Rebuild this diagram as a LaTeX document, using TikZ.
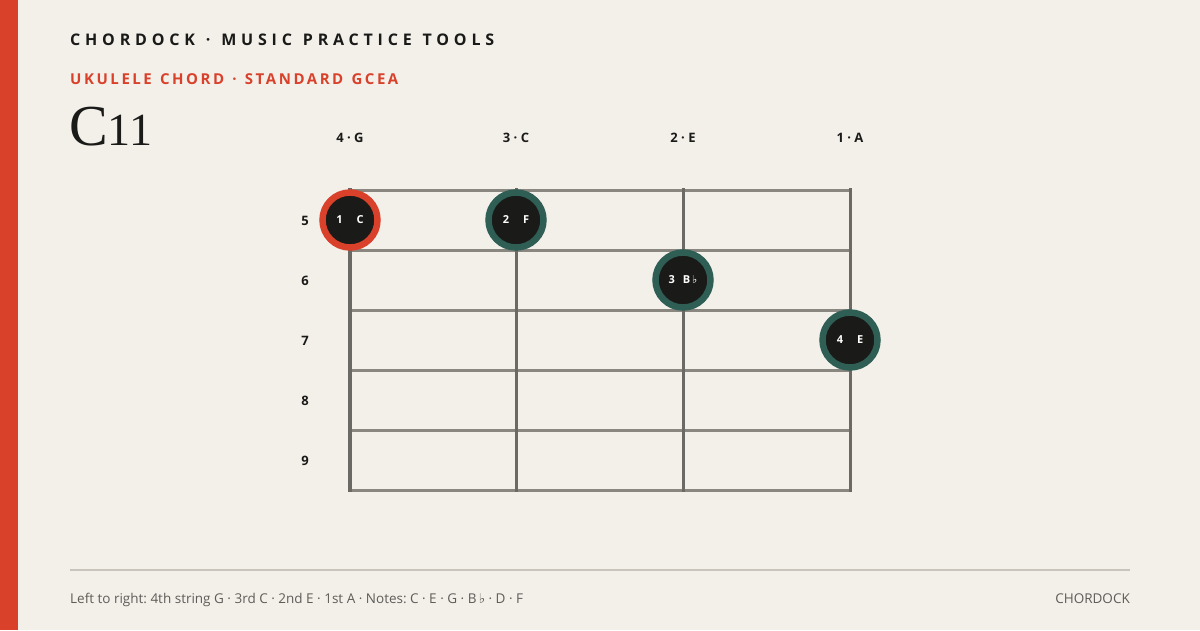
\documentclass[tikz,border=0pt]{standalone}
\usepackage{fontspec}
\setsansfont{Open Sans}
\newfontfamily\symfont{DejaVu Sans}
\newfontfamily\titlefont{Liberation Serif}
\newfontfamily\brandfont{Open Sans}[LetterSpace=30,WordSpace=1.22]
\newfontfamily\tuningfont{Open Sans}[LetterSpace=17,WordSpace=1.27]
\usetikzlibrary{positioning}
\usepackage{xcolor}
\frenchspacing

\definecolor{paper}{HTML}{F3F0EA}
\definecolor{accent}{HTML}{D9412B}
\definecolor{ink}{HTML}{1A1A18}
\definecolor{pine}{HTML}{2F5E54}
\definecolor{fretgray}{HTML}{8A8781}
\definecolor{stringgray}{HTML}{6B6964}
\definecolor{rulegray}{HTML}{C9C5BD}
\definecolor{footgray}{HTML}{5E5C58}

\newcommand{\flatsign}{{\symfont\char"266D}}

\begin{document}
\begin{tikzpicture}[
				x=1pt,y=-1pt,
				label/.style={font=\sffamily\bfseries\fontsize{13}{15}\selectfont,text=ink,inner sep=0pt},
				fret/.style={draw=fretgray,line width=3pt},
				string/.style={draw=stringgray,line width=3pt},
				finger/.style={circle,fill=ink,draw=pine,line width=6.5pt,minimum size=55pt,inner sep=0pt,
					text=white,font=\sffamily\bfseries\fontsize{11}{13}\selectfont},
				root/.style={finger,draw=accent},
				footer/.style={inner sep=0pt,text=footgray,font=\sffamily\fontsize{13.5}{15}\selectfont}
				]
				
				% sfondo
				\useasboundingbox (0,0) rectangle (1200,630);
				\fill[paper] (0,0) rectangle (1200,630);
				\fill[accent] (0,0) rectangle (18,630);
				
				% intestazione
				\node[anchor=base west,inner sep=0pt,text=ink,font=\brandfont\bfseries\fontsize{16}{18}\selectfont] (brand) at (70,45) {CHORDOCK · MUSIC PRACTICE TOOLS};
				\node[anchor=base west,inner sep=0pt,text=accent,font=\tuningfont\bfseries\fontsize{15}{17}\selectfont] (tuning) at (70,84) {UKULELE CHORD · STANDARD GCEA};
				\node[anchor=base west,inner sep=0pt,text=ink,font=\titlefont\fontsize{58}{60}\selectfont] (chord) at (69,145) {C{\fontsize{46}{50}\selectfont 11}};
				
				% corde (etichette)
				\node[label,anchor=base] (sG) at (350,142) {4 · G};
				\node[label,anchor=base] (sC) at (516,142) {3 · C};
				\node[label,anchor=base] (sE) at (683,142) {2 · E};
				\node[label,anchor=base] (sA) at (850,142) {1 · A};
				
				% numeri dei tasti
				\node[label] (f5) at (305,221) {5};
				\node[label] (f6) at (305,281) {6};
				\node[label] (f7) at (305,341) {7};
				\node[label] (f8) at (305,401) {8};
				\node[label] (f9) at (305,461) {9};
				
				% tastiera
				\draw[fret] (350,190) -- (850,190);
				\draw[fret] (350,250) -- (850,250);
				\draw[fret] (350,310) -- (850,310);
				\draw[fret] (350,370) -- (850,370);
				\draw[fret] (350,430) -- (850,430);
				\draw[fret] (350,490) -- (850,490);
				\draw[string,line width=4pt] (350,188) -- (350,491.5);
				\draw[string] (516,188) -- (516,491.5);
				\draw[string] (683,188) -- (683,491.5);
				\draw[string] (850,188) -- (850,491.5);
				
				% diteggiatura
				\node[root] (n1) at (350,220) {1\hspace{14pt}C};
				\node[finger] (n2) at (516,220) {2\hspace{14pt}F};
				\node[finger] (n3) at (683,280) {3\hspace{8pt}B\,\flatsign};
				\node[finger] (n4) at (850,340) {4\hspace{14pt}E};
				
				% piede
				\draw[rulegray,line width=1.5pt] (70,570) -- (1130,570);
				\node[footer,anchor=base west] (notes) at (70,603) {Left to right: 4th string G · 3rd C · 2nd E · 1st A · Notes: C · E · G · B\,\flatsign\ · D · F};
				\node[footer,anchor=base east] (site) at (1130,603) {CHORDOCK};
				
			\end{tikzpicture}
\end{document}
